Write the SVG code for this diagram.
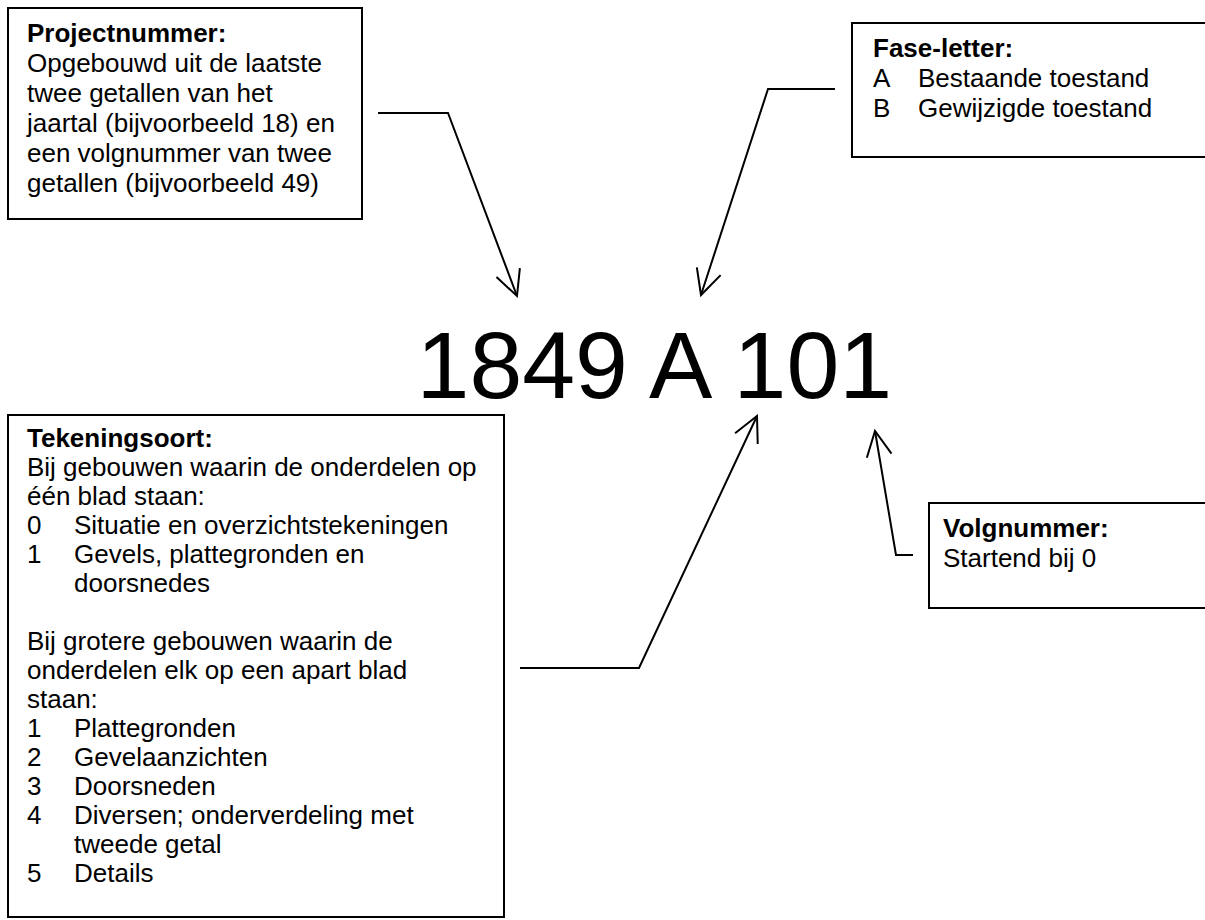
<svg xmlns="http://www.w3.org/2000/svg" width="1205" height="920" viewBox="0 0 1205 920">
<style>
.box{fill:#fff;stroke:#000;stroke-width:2}
.t{font-family:"Liberation Sans",Arial,sans-serif;font-size:26px;fill:#000}
.b{font-weight:bold}
.big{font-family:"Liberation Sans",Arial,sans-serif;font-size:95px;fill:#000}
.con{fill:none;stroke:#000;stroke-width:2;stroke-linejoin:miter}
</style>
<defs>
<marker id="arr" markerUnits="userSpaceOnUse" viewBox="-30 -16 34 32" refX="0" refY="0" markerWidth="34" markerHeight="32" orient="auto" overflow="visible">
<path d="M-25,-12.5 L0,0 L-25,12.5" fill="none" stroke="#000" stroke-width="2"/>
</marker>
</defs>
<rect width="1205" height="920" fill="#fff"/>
<g id="projectnummer">
<rect class="box" x="8" y="8" width="354" height="211"/>
<text class="t b" x="27" y="42">Projectnummer:</text>
<text class="t" x="27" y="72">Opgebouwd uit de laatste</text>
<text class="t" x="27" y="102">twee getallen van het</text>
<text class="t" x="27" y="132">jaartal (bijvoorbeeld 18) en</text>
<text class="t" x="27" y="162">een volgnummer van twee</text>
<text class="t" x="27" y="192">getallen (bijvoorbeeld 49)</text>
</g>
<g id="faseletter">
<rect class="box" x="852" y="23" width="370" height="134"/>
<text class="t b" x="873" y="57">Fase-letter:</text>
<text class="t" x="873" y="87">A</text><text class="t" x="918" y="87">Bestaande toestand</text>
<text class="t" x="873" y="117">B</text><text class="t" x="918" y="117">Gewijzigde toestand</text>
</g>
<g id="code">
<text class="big" x="416.6" y="398">1849 A 101</text>
</g>
<g id="tekeningsoort">
<rect class="box" x="8" y="415" width="496" height="502"/>
<text class="t b" x="27" y="447">Tekeningsoort:</text>
<text class="t" x="27" y="476">Bij gebouwen waarin de onderdelen op</text>
<text class="t" x="27" y="505">één blad staan:</text>
<text class="t" x="27" y="534">0</text><text class="t" x="74" y="534">Situatie en overzichtstekeningen</text>
<text class="t" x="27" y="563">1</text><text class="t" x="74" y="563">Gevels, plattegronden en</text>
<text class="t" x="74" y="592">doorsnedes</text>
<text class="t" x="27" y="650">Bij grotere gebouwen waarin de</text>
<text class="t" x="27" y="679">onderdelen elk op een apart blad</text>
<text class="t" x="27" y="708">staan:</text>
<text class="t" x="27" y="737">1</text><text class="t" x="74" y="737">Plattegronden</text>
<text class="t" x="27" y="766">2</text><text class="t" x="74" y="766">Gevelaanzichten</text>
<text class="t" x="27" y="795">3</text><text class="t" x="74" y="795">Doorsneden</text>
<text class="t" x="27" y="824">4</text><text class="t" x="74" y="824">Diversen; onderverdeling met</text>
<text class="t" x="74" y="853">tweede getal</text>
<text class="t" x="27" y="882">5</text><text class="t" x="74" y="882">Details</text>
</g>
<g id="volgnummer">
<rect class="box" x="929" y="503" width="290" height="105"/>
<text class="t b" x="943" y="537">Volgnummer:</text>
<text class="t" x="943" y="567">Startend bij 0</text>
</g>
<g id="connectors">
<polyline class="con" points="378,113 448,113 517,296" marker-end="url(#arr)"/>
<polyline class="con" points="835,89 768,89 701,295" marker-end="url(#arr)"/>
<polyline class="con" points="520,668 639,668 757,416" marker-end="url(#arr)"/>
<polyline class="con" points="913,555 896,555 875,431" marker-end="url(#arr)"/>
</g>
</svg>
